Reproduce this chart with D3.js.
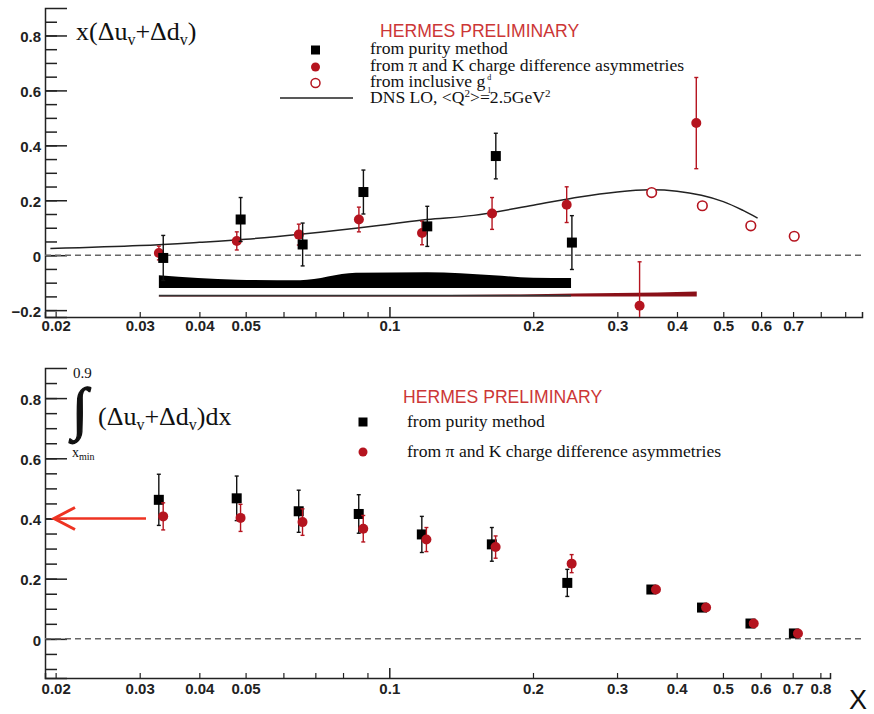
<!DOCTYPE html>
<html>
<head>
<meta charset="utf-8">
<script src="https://cdn.jsdelivr.net/npm/d3@7"></script>
<style>
  body { margin: 0; background: #fff; }
  svg { display: block; }
  .tick text { font-family: "Liberation Sans", Arial, sans-serif; font-weight: bold; font-size: 15px; fill: #222; }
  .serif { font-family: "Liberation Serif", "Times New Roman", serif; fill: #111; }
</style>
</head>
<body>
<div id="chart"></div>
<script>
// ---- top panel: x(du_v + dd_v) ----
const purityX = [0.0336, 0.0488, 0.0658, 0.0882, 0.120, 0.167, 0.241];
const purityY = [-0.01, 0.13, 0.039, 0.23, 0.105, 0.361, 0.046];
const purityErr = [0.082, 0.08, 0.078, 0.08, 0.073, 0.083, 0.098];

const pikX = [0.0329, 0.0479, 0.0646, 0.0863, 0.117, 0.164, 0.235, 0.334, 0.439];
const pikY = [0.008, 0.052, 0.075, 0.13, 0.081, 0.152, 0.184, -0.184, 0.481];
const pikErr = [0.025, 0.033, 0.038, 0.045, 0.043, 0.058, 0.065, 0.16, 0.166];

const g1X = [0.354, 0.452, 0.571, 0.704];
const g1Y = [0.228, 0.18, 0.107, 0.069];

const dnsX = [0.0195, 0.03, 0.04, 0.05, 0.065, 0.085, 0.1, 0.12, 0.15, 0.2, 0.25, 0.3, 0.35, 0.4, 0.45, 0.5, 0.55, 0.59];
const dnsY = [0.024, 0.035, 0.047, 0.058, 0.076, 0.098, 0.113, 0.13, 0.145, 0.182, 0.212, 0.23, 0.238, 0.233, 0.218, 0.195, 0.163, 0.135];

// systematic bands (baseline + height)
const bandPurityBase = -0.119;
const bandPurityX = [0.0329, 0.048, 0.065, 0.085, 0.12, 0.165, 0.2, 0.24];
const bandPurityH = [0.046, 0.030, 0.028, 0.055, 0.057, 0.046, 0.037, 0.036];
const bandPikBase = -0.150;
const bandPikX = [0.0329, 0.1, 0.2, 0.3, 0.44];
const bandPikH = [0.002, 0.004, 0.008, 0.012, 0.018];
const bandLineX = [0.0329, 0.24];
const bandLineH = [0.006, 0.006];

// ---- bottom panel: integral from x_min ----
const intPurityX = [0.0329, 0.0479, 0.0646, 0.0863, 0.117, 0.164, 0.236, 0.354, 0.452, 0.571, 0.704];
const intPurityY = [0.462, 0.467, 0.424, 0.415, 0.347, 0.314, 0.186, 0.164, 0.104, 0.051, 0.018];
const intPurityErr = [0.085, 0.074, 0.07, 0.064, 0.06, 0.056, 0.045, 0, 0, 0, 0];

const intPikX = [0.0336, 0.0488, 0.0658, 0.0882, 0.1196, 0.167, 0.241, 0.362, 0.461, 0.58, 0.718];
const intPikY = [0.407, 0.402, 0.388, 0.366, 0.33, 0.305, 0.25, 0.164, 0.104, 0.051, 0.018];
const intPikErr = [0.045, 0.045, 0.044, 0.044, 0.04, 0.037, 0.03, 0, 0, 0, 0];

const xLabelsTop = [0.02, 0.03, 0.04, 0.05, 0.1, 0.2, 0.3, 0.4, 0.5, 0.6, 0.7];
const xLabelsBot = [0.02, 0.03, 0.04, 0.05, 0.1, 0.2, 0.3, 0.4, 0.5, 0.6, 0.7, 0.8];
const xMinor = [0.02, 0.03, 0.04, 0.05, 0.06, 0.07, 0.08, 0.09, 0.2, 0.3, 0.4, 0.5, 0.6, 0.7, 0.8, 0.9];
const yLabels = [-0.2, 0, 0.2, 0.4, 0.6, 0.8];

const RED = "#b5141f";
const HERMES = "#cc3636";

const svg = d3.select("#chart").append("svg")
    .attr("width", 874)
    .attr("height", 714);

function fmt(d) { return d === 0 ? "0" : d3.format("")(+d.toFixed(2)); }

function drawAxes(xScale, yScale, xLabels, yMajor, yMinor, xPad) {
    const yAxisX = xScale.range()[0];
    const xAxisY = yScale.range()[0];

    // y minor ticks
    svg.append("g")
        .attr("transform", `translate(${yAxisX},0)`)
        .call(d3.axisLeft(yScale).tickValues(yMinor).tickSize(-12).tickFormat(""))
        .call(g => g.select(".domain").remove())
        .selectAll("line").attr("stroke", "#222").attr("stroke-width", 1.5);

    // y major ticks + labels
    svg.append("g")
        .attr("transform", `translate(${yAxisX},0)`)
        .call(d3.axisLeft(yScale).tickValues(yMajor).tickSize(-22).tickPadding(4).tickFormat(fmt))
        .call(g => g.select(".domain").attr("stroke", "#222").attr("stroke-width", 1.5))
        .call(g => g.selectAll("line").attr("stroke", "#222").attr("stroke-width", 1.5))
        .call(g => g.selectAll("text").attr("dy", "0.42em"));

    // x minor ticks
    const dom = xScale.domain();
    svg.append("g")
        .attr("transform", `translate(0,${xAxisY})`)
        .call(d3.axisBottom(xScale).tickValues(xMinor.filter(v => v >= dom[0] && v <= dom[1])).tickSize(-5).tickFormat(""))
        .call(g => g.select(".domain").attr("stroke", "#222").attr("stroke-width", 1.5))
        .selectAll("line").attr("stroke", "#222").attr("stroke-width", 1.2);

    // x major tick at 0.1 and labels
    svg.append("g")
        .attr("transform", `translate(0,${xAxisY})`)
        .call(d3.axisBottom(xScale).tickValues([0.1]).tickSize(-10).tickFormat(""))
        .call(g => g.select(".domain").remove())
        .selectAll("line").attr("stroke", "#222").attr("stroke-width", 1.5);

    svg.append("g")
        .attr("transform", `translate(0,${xAxisY})`)
        .call(d3.axisBottom(xScale).tickValues(xLabels).tickSize(0).tickPadding(xPad).tickFormat(fmt))
        .call(g => g.select(".domain").remove());
}

function clipGroup(id, xScale, yScale) {
    const [x0, x1] = xScale.range();
    const [yb, yt] = yScale.range();
    svg.append("clipPath").attr("id", id)
        .append("rect").attr("x", x0).attr("y", yt).attr("width", x1 - x0 + 10).attr("height", yb - yt);
    return svg.append("g").attr("clip-path", `url(#${id})`);
}

function zeroLine(parent, xScale, yScale, xEnd) {
    parent.append("line")
        .attr("x1", xScale.range()[0]).attr("x2", xEnd)
        .attr("y1", yScale(0)).attr("y2", yScale(0))
        .attr("stroke", "#666").attr("stroke-width", 1.5)
        .attr("stroke-dasharray", "6,4");
}

function errorBars(parent, xs, ys, errs, xScale, yScale, color) {
    const idx = d3.range(xs.length).filter(i => errs[i] > 0);
    const g = parent.append("g").attr("stroke", color).attr("stroke-width", 1.4);
    idx.forEach(i => {
        const x = xScale(xs[i]);
        const y1 = yScale(ys[i] - errs[i]);
        const y2 = yScale(ys[i] + errs[i]);
        g.append("line").attr("x1", x).attr("x2", x).attr("y1", y1).attr("y2", y2);
        g.append("line").attr("x1", x - 2).attr("x2", x + 2).attr("y1", y1).attr("y2", y1);
        g.append("line").attr("x1", x - 2).attr("x2", x + 2).attr("y1", y2).attr("y2", y2);
    });
}

function squares(parent, xs, ys, xScale, yScale, s) {
    parent.append("g").selectAll("rect")
        .data(d3.range(xs.length))
        .join("rect")
        .attr("x", i => xScale(xs[i]) - s / 2)
        .attr("y", i => yScale(ys[i]) - s / 2)
        .attr("width", s).attr("height", s)
        .attr("fill", "#000");
}

function circles(parent, xs, ys, xScale, yScale, r, open) {
    parent.append("g").selectAll("circle")
        .data(d3.range(xs.length))
        .join("circle")
        .attr("cx", i => xScale(xs[i]))
        .attr("cy", i => yScale(ys[i]))
        .attr("r", r)
        .attr("fill", open ? "#fff" : RED)
        .attr("stroke", RED)
        .attr("stroke-width", open ? 1.6 : 0);
}

function band(parent, xs, hs, base, xScale, yScale, color) {
    const area = d3.area()
        .x(i => xScale(xs[i]))
        .y0(() => yScale(base))
        .y1(i => yScale(base + hs[i]))
        .curve(d3.curveMonotoneX);
    parent.append("path")
        .attr("d", area(d3.range(xs.length)))
        .attr("fill", color);
}

// ================= TOP PANEL =================
const xTop = d3.scaleLog().domain([0.019, 0.976]).range([45, 862]);
const yTop = d3.scaleLinear().domain([-0.225, 0.9]).range([317, 8]);

const yMinorTop = d3.range(-4, 18).map(i => +(i * 0.05).toFixed(2));
drawAxes(xTop, yTop, xLabelsTop, yLabels, yMinorTop, 3);

const gTop = clipGroup("clipTop", xTop, yTop);
band(gTop, bandPurityX, bandPurityH, bandPurityBase, xTop, yTop, "#000");
band(gTop, bandPikX, bandPikH, bandPikBase, xTop, yTop, "#8a1018");
band(gTop, bandLineX, bandLineH, bandPikBase, xTop, yTop, "#333");

zeroLine(gTop, xTop, yTop, 862);

const dnsLine = d3.line()
    .x(i => xTop(dnsX[i]))
    .y(i => yTop(dnsY[i]))
    .curve(d3.curveCatmullRom);
gTop.append("path")
    .attr("d", dnsLine(d3.range(dnsX.length)))
    .attr("fill", "none")
    .attr("stroke", "#222")
    .attr("stroke-width", 1.5);

errorBars(gTop, pikX, pikY, pikErr, xTop, yTop, RED);
circles(gTop, pikX, pikY, xTop, yTop, 5, false);
errorBars(gTop, purityX, purityY, purityErr, xTop, yTop, "#111");
squares(gTop, purityX, purityY, xTop, yTop, 10);
circles(gTop, g1X, g1Y, xTop, yTop, 4.8, true);

// title
const t1 = svg.append("text").attr("class", "serif")
    .attr("x", 76).attr("y", 40).attr("font-size", 26);
t1.append("tspan").text("x(Δu");
t1.append("tspan").attr("font-size", 16).attr("dy", 5).text("v");
t1.append("tspan").attr("dy", -5).text("+Δd");
t1.append("tspan").attr("font-size", 16).attr("dy", 5).text("v");
t1.append("tspan").attr("dy", -5).text(")");

// legend
const hermesFont = 17.6;
svg.append("text")
    .attr("x", 380).attr("y", 37)
    .attr("font-family", "Liberation Sans, Arial, sans-serif")
    .attr("font-size", hermesFont)
    .attr("fill", HERMES)
    .text("HERMES PRELIMINARY");

svg.append("rect").attr("x", 311).attr("y", 45.5).attr("width", 9).attr("height", 9).attr("fill", "#000");
svg.append("circle").attr("cx", 315.5).attr("cy", 67).attr("r", 4.5).attr("fill", RED);
svg.append("circle").attr("cx", 315.5).attr("cy", 83).attr("r", 4.5).attr("fill", "#fff").attr("stroke", RED).attr("stroke-width", 1.5);
svg.append("line").attr("x1", 280).attr("x2", 353).attr("y1", 98).attr("y2", 98).attr("stroke", "#222").attr("stroke-width", 1.5);

const legFont = 17.6;
svg.append("text").attr("class", "serif").attr("x", 370).attr("y", 54).attr("font-size", legFont).text("from purity method");
svg.append("text").attr("class", "serif").attr("x", 370).attr("y", 70.5).attr("font-size", legFont).text("from π and K charge difference asymmetries");
const g1t = svg.append("text").attr("class", "serif").attr("x", 370).attr("y", 87).attr("font-size", legFont)
    .text("from inclusive g");
const gEnd = 370 + g1t.node().getComputedTextLength() + 2;
svg.append("text").attr("class", "serif").attr("x", gEnd).attr("y", 80).attr("font-size", 8).text("d");
svg.append("text").attr("class", "serif").attr("x", gEnd).attr("y", 93).attr("font-size", 8).text("1");
const dns = svg.append("text").attr("class", "serif").attr("x", 370).attr("y", 103).attr("font-size", legFont);
dns.append("tspan").text("DNS LO, <Q");
dns.append("tspan").attr("font-size", 11).attr("dy", -6).text("2");
dns.append("tspan").attr("dy", 6).text(">=2.5GeV");
dns.append("tspan").attr("font-size", 11).attr("dy", -6).text("2");

// ================= BOTTOM PANEL =================
const xBot = d3.scaleLog().domain([0.019, 0.838]).range([45, 830]);
const yBot = d3.scaleLinear().domain([-0.13, 0.9]).range([678, 368]);

const yMinorBot = d3.range(-2, 18).map(i => +(i * 0.05).toFixed(2));
drawAxes(xBot, yBot, xLabelsBot, yLabels.filter(v => v >= 0), yMinorBot, 5);

const gBot = svg.append("g");
zeroLine(gBot, xBot, yBot, 863);

errorBars(gBot, intPurityX, intPurityY, intPurityErr, xBot, yBot, "#111");
squares(gBot, intPurityX, intPurityY, xBot, yBot, 10);
errorBars(gBot, intPikX, intPikY, intPikErr, xBot, yBot, RED);
circles(gBot, intPikX, intPikY, xBot, yBot, 5, false);

// integral title
svg.append("text").attr("class", "serif").attr("x", 73).attr("y", 378).attr("font-size", 15).text("0.9");
svg.append("text").attr("class", "serif").attr("x", 72).attr("y", 428).attr("font-size", 58)
    .attr("stroke", "#111").attr("stroke-width", 1.3).text("∫");
const xm = svg.append("text").attr("class", "serif").attr("x", 72).attr("y", 457).attr("font-size", 14);
xm.append("tspan").text("x");
xm.append("tspan").attr("font-size", 10).attr("dy", 3).text("min");
const t2 = svg.append("text").attr("class", "serif")
    .attr("x", 98).attr("y", 425).attr("font-size", 26);
t2.append("tspan").text("(Δu");
t2.append("tspan").attr("font-size", 16).attr("dy", 5).text("v");
t2.append("tspan").attr("dy", -5).text("+Δd");
t2.append("tspan").attr("font-size", 16).attr("dy", 5).text("v");
t2.append("tspan").attr("dy", -5).text(")dx");

// legend
svg.append("text")
    .attr("x", 403).attr("y", 403)
    .attr("font-family", "Liberation Sans, Arial, sans-serif")
    .attr("font-size", hermesFont)
    .attr("fill", HERMES)
    .text("HERMES PRELIMINARY");
svg.append("rect").attr("x", 358.5).attr("y", 417.5).attr("width", 9).attr("height", 9).attr("fill", "#000");
svg.append("circle").attr("cx", 363).attr("cy", 452).attr("r", 4.5).attr("fill", RED);
svg.append("text").attr("class", "serif").attr("x", 407).attr("y", 427).attr("font-size", legFont).text("from purity method");
svg.append("text").attr("class", "serif").attr("x", 407).attr("y", 457).attr("font-size", legFont).text("from π and K charge difference asymmetries");

// red arrow at 0.4
const ay = yBot(0.4);
svg.append("line").attr("x1", 146).attr("x2", 54).attr("y1", ay).attr("y2", ay)
    .attr("stroke", "#ee3322").attr("stroke-width", 2.5);
svg.append("path")
    .attr("d", `M75,${ay - 11} L54,${ay} L75,${ay + 11}`)
    .attr("fill", "none").attr("stroke", "#ee3322").attr("stroke-width", 3);

// X label
svg.append("text")
    .attr("x", 858).attr("y", 709)
    .attr("text-anchor", "middle")
    .attr("font-family", "Liberation Sans, Arial, sans-serif")
    .attr("font-size", 27)
    .attr("fill", "#111")
    .text("X");
</script>
</body>
</html>
